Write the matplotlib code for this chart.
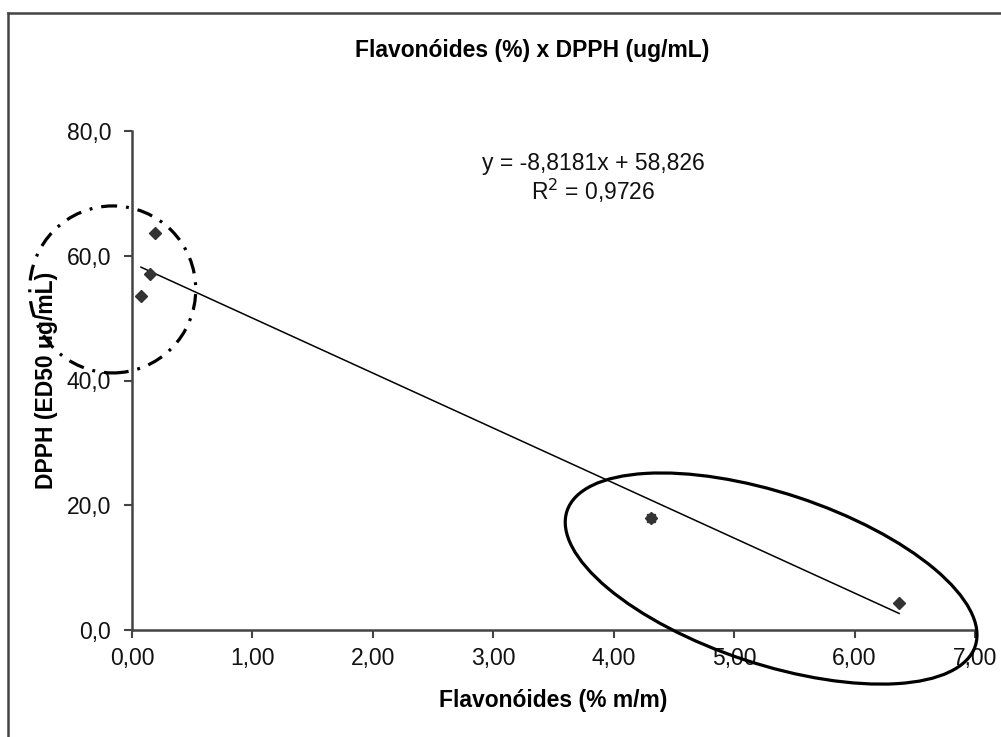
import matplotlib
matplotlib.use('Agg')
import matplotlib.pyplot as plt
from matplotlib.patches import Ellipse
from matplotlib.transforms import IdentityTransform
from matplotlib.lines import Line2D
import numpy as np

# Flavonoides (% m/m) x DPPH (ED50 ug/mL)
flav = [0.075, 0.15, 0.19, 4.31, 6.37]
dpph = [53.5, 57.0, 63.6, 18.0, 4.3]

# linha de tendencia (Excel)
slope = -8.8181
intercept = 58.826
r2_text = '0,9726'

x_ticks = [0, 1, 2, 3, 4, 5, 6, 7]
x_labels = ['0,00', '1,00', '2,00', '3,00', '4,00', '5,00', '6,00', '7,00']
y_ticks = [0, 20, 40, 60, 80]
y_labels = ['0,0', '20,0', '40,0', '60,0', '80,0']

plt.rcParams['font.family'] = ['Liberation Sans', 'DejaVu Sans']

W, H = 1001, 737
fig = plt.figure(figsize=(W / 100, H / 100), dpi=100)
ax = fig.add_axes([132 / W, 1 - 630 / H, (975 - 132) / W, (630 - 131) / H])

ax.set_xlim(0, 7)
ax.set_ylim(0, 80)

# pontos
ax.plot(flav, dpph, linestyle='none', marker='D', markersize=6.5,
        color='#333333', zorder=4, clip_on=False)
# o ponto de 4,31 aparece sobreposto (estrela)
ax.plot(flav[3], dpph[3], linestyle='none', marker='s', markersize=6,
        color='#333333', zorder=4)

# tendencia
xt = np.array([min(flav), max(flav)])
ax.plot(xt, slope * xt + intercept, color='black', linewidth=1.1, zorder=3)

ax.set_xticks(x_ticks)
ax.set_xticklabels(x_labels)
ax.set_yticks(y_ticks)
ax.set_yticklabels(y_labels)
ax.tick_params(direction='out', length=6, width=1.5, colors='#444444',
               labelcolor='#111111', labelsize=16.5)
ax.tick_params(axis='y', pad=9)
ax.tick_params(axis='x', pad=6)

for s in ['top', 'right']:
    ax.spines[s].set_visible(False)
for s in ['left', 'bottom']:
    ax.spines[s].set_color('#444444')
    ax.spines[s].set_linewidth(1.8)

ax.set_xlabel('Flavonóides (% m/m)', fontsize=16.5, fontweight='bold', labelpad=14)
ax.set_ylabel('DPPH (ED50 ug/mL)', fontsize=16.5, fontweight='bold', labelpad=6)

fig.text(532 / W, 1 - 50 / H, 'Flavonóides (%) x DPPH (ug/mL)', fontsize=16.5,
         fontweight='bold', ha='center', va='center')

eq = 'y = -%sx + %s' % (str(-slope).replace('.', ','), str(intercept).replace('.', ','))
ax.text(0.547, 0.935, eq, transform=ax.transAxes, fontsize=16.5,
        ha='center', va='center', color='#111111')
ax.text(0.547, 0.88, r'R$^2$ = ' + r2_text, transform=ax.transAxes, fontsize=16.5,
        ha='center', va='center', color='#111111')

# circulos de destaque (em pixels)
fig.canvas.draw()
c1 = ax.transData.transform((-0.16, 54.6))
circ = Ellipse(c1, 166, 167, angle=0, fill=False, edgecolor='black',
               linewidth=2.3, linestyle=(0, (5, 2.8, 0.9, 2.8)),
               transform=IdentityTransform(), clip_on=False, zorder=5)
ax.add_patch(circ)

c2 = ax.transData.transform((5.307, 8.25))
ell = Ellipse(c2, 430, 171, angle=-18.3, fill=False, edgecolor='black',
              linewidth=2.3, transform=IdentityTransform(), clip_on=False, zorder=5)
ax.add_patch(ell)

# moldura externa (so esquerda e topo visiveis)
fig.add_artist(Line2D([8 / W, 8 / W], [0, 1 - 13 / H], color='#444444', linewidth=1.8))
fig.add_artist(Line2D([8 / W, 1], [1 - 13 / H, 1 - 13 / H], color='#444444', linewidth=1.8))

fig.savefig('out.png', dpi=100)
